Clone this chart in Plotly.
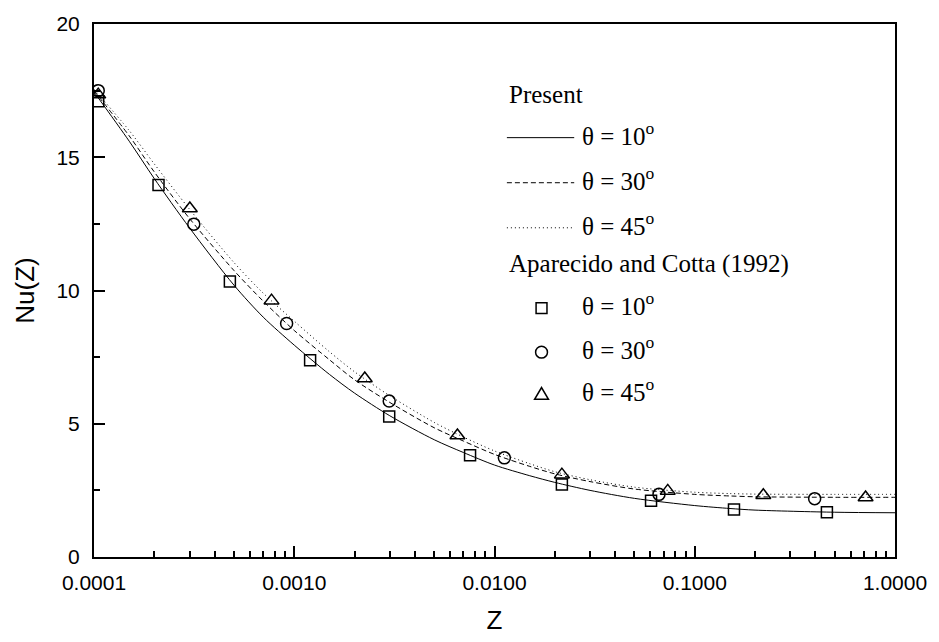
import plotly.graph_objects as go

# ---- data ----
z_curve = [1e-4, 1.5e-4, 2e-4, 3e-4, 5e-4, 7e-4, 1e-3, 1.5e-3, 2e-3, 3e-3, 5e-3, 7e-3,
           1e-2, 1.5e-2, 2e-2, 3e-2, 5e-2, 1e-1, 1.5e-1, 2e-1, 5e-1, 1.0]
nu_present_10 = [17.45, 15.6, 14.2, 12.35, 10.2, 9.0, 7.95, 6.85, 6.15, 5.3, 4.4, 3.92,
                 3.45, 3.05, 2.8, 2.5, 2.2, 1.93, 1.82, 1.76, 1.68, 1.66]
nu_present_30 = [17.5, 15.8, 14.45, 12.7, 10.75, 9.6, 8.5, 7.4, 6.65, 5.8, 4.85, 4.35,
                 3.85, 3.4, 3.12, 2.83, 2.55, 2.35, 2.29, 2.26, 2.24, 2.24]
nu_present_45 = [17.55, 16.0, 14.75, 13.05, 11.05, 9.9, 8.85, 7.7, 6.95, 6.05, 5.05, 4.5,
                 3.98, 3.5, 3.2, 2.9, 2.62, 2.43, 2.38, 2.36, 2.35, 2.35]

z_ac_10 = [1.05e-4, 2.1e-4, 4.77e-4, 1.2e-3, 2.98e-3, 7.55e-3, 2.17e-2, 6.05e-2, 0.157, 0.457]
nu_ac_10 = [17.1, 13.96, 10.34, 7.38, 5.27, 3.82, 2.72, 2.11, 1.78, 1.68]
z_ac_30 = [1.05e-4, 3.15e-4, 9.16e-4, 2.98e-3, 1.12e-2, 6.63e-2, 0.397]
nu_ac_30 = [17.5, 12.49, 8.76, 5.85, 3.72, 2.35, 2.19]
z_ac_45 = [1.05e-4, 3.01e-4, 7.7e-4, 2.25e-3, 6.53e-3, 2.17e-2, 7.33e-2, 0.22, 0.713]
nu_ac_45 = [17.35, 13.08, 9.62, 6.70, 4.56, 3.09, 2.48, 2.32, 2.23]

x_tickvals = [1e-4, 1e-3, 1e-2, 1e-1, 1.0]
x_ticktext = ["0.0001", "0.0010", "0.0100", "0.1000", "1.0000"]
x_minor = [m * d for d in [1e-4, 1e-3, 1e-2, 1e-1] for m in range(2, 10)]
y_tickvals = [0, 5, 10, 15, 20]

legend_line_labels = ["θ = 10<sup>o</sup>", "θ = 30<sup>o</sup>", "θ = 45<sup>o</sup>"]
legend_marker_labels = ["θ = 10<sup>o</sup>", "θ = 30<sup>o</sup>", "θ = 45<sup>o</sup>"]

# ---- layout geometry (pixels) ----
W, H = 939, 642
L, R, T, B = 94, 36, 15, 83
PW, PH = W - L - R, H - T - B


def px(xp):
    return (xp - L) / PW


def py(yp):
    return (H - B - yp) / PH


fig = go.Figure()
fig.add_trace(go.Scatter(x=z_curve, y=nu_present_10, mode="lines",
                         line=dict(color="black", width=1, shape="spline", smoothing=0.8)))
fig.add_trace(go.Scatter(x=z_curve, y=nu_present_30, mode="lines",
                         line=dict(color="black", width=1, dash="5px,3px", shape="spline", smoothing=0.8)))
fig.add_trace(go.Scatter(x=z_curve, y=nu_present_45, mode="lines",
                         line=dict(color="black", width=1, dash="1px,3px", shape="spline", smoothing=0.8)))

fig.add_trace(go.Scatter(x=z_ac_10, y=nu_ac_10, mode="markers",
                         marker=dict(symbol="square-open", size=11, color="black",
                                     line=dict(color="black", width=1.5))))
fig.add_trace(go.Scatter(x=z_ac_30, y=nu_ac_30, mode="markers",
                         marker=dict(symbol="circle-open", size=12, color="black",
                                     line=dict(color="black", width=1.5))))
fig.add_trace(go.Scatter(x=z_ac_45, y=nu_ac_45, mode="markers",
                         marker=dict(symbol="triangle-up-open", size=13, color="black",
                                     line=dict(color="black", width=1.5))))

# ---- manual legend ----
serif = dict(family="Liberation Serif, Times New Roman, serif", size=25, color="black")
ann = []
shapes = []
ann.append(dict(x=px(511), y=py(87), xref="paper", yref="paper", text="Present",
                showarrow=False, xanchor="left", yanchor="middle", font=serif))
line_rows = [131, 177, 223]
dashes = ["solid", "5px,3px", "1px,3px"]
for yy, lab, d in zip(line_rows, legend_line_labels, dashes):
    shapes.append(dict(type="line", xref="paper", yref="paper",
                       x0=px(511), x1=px(579), y0=py(yy), y1=py(yy),
                       line=dict(color="black", width=1, dash=d)))
    ann.append(dict(x=px(585), y=py(yy - 4), xref="paper", yref="paper", text=lab,
                    showarrow=False, xanchor="left", yanchor="middle", font=serif))
ann.append(dict(x=px(511), y=py(260), xref="paper", yref="paper",
                text="Aparecido and Cotta (1992)",
                showarrow=False, xanchor="left", yanchor="middle", font=serif))
marker_rows = [305, 350, 393]
mx = 546
s = 5.5
shapes.append(dict(type="rect", xref="paper", yref="paper",
                   x0=px(mx - s), x1=px(mx + s), y0=py(305 - s), y1=py(305 + s),
                   line=dict(color="black", width=1.5)))
shapes.append(dict(type="circle", xref="paper", yref="paper",
                   x0=px(mx - 6), x1=px(mx + 6), y0=py(350 - 6), y1=py(350 + 6),
                   line=dict(color="black", width=1.5)))
tri = "M {},{} L {},{} L {},{} Z".format(px(mx - 7), py(398), px(mx + 7), py(398), px(mx), py(386))
shapes.append(dict(type="path", xref="paper", yref="paper", path=tri,
                   line=dict(color="black", width=1.5)))
for yy, lab in zip(marker_rows, legend_marker_labels):
    ann.append(dict(x=px(585), y=py(yy - 4), xref="paper", yref="paper", text=lab,
                    showarrow=False, xanchor="left", yanchor="middle", font=serif))

sans = "Liberation Sans Narrow, Arial Narrow, Liberation Sans, Arial, sans-serif"
fig.update_layout(
    width=W, height=H,
    margin=dict(l=L, r=R, t=T, b=B),
    paper_bgcolor="white", plot_bgcolor="white",
    showlegend=False,
    annotations=ann, shapes=shapes,
    font=dict(family=sans, color="black"),
)
fig.update_xaxes(
    type="log", range=[-4, 0],
    tickmode="array", tickvals=x_tickvals, ticktext=x_ticktext,
    ticks="inside", ticklen=11, tickwidth=2, tickcolor="black",
    minor=dict(tickmode="array", tickvals=x_minor, ticks="inside", ticklen=6, tickwidth=1.5, tickcolor="black"),
    showline=True, linewidth=2, linecolor="black", mirror=True,
    showgrid=False, zeroline=False,
    tickfont=dict(family=sans, size=21),
    ticklabelstandoff=6,
    title=dict(text="Z", font=dict(family=sans, size=26), standoff=18),
)
fig.update_yaxes(
    range=[0, 20],
    tickmode="array", tickvals=y_tickvals,
    ticks="inside", ticklen=11, tickwidth=2, tickcolor="black",
    minor=dict(dtick=2.5, ticks="inside", ticklen=6, tickwidth=1.5, tickcolor="black"),
    showline=True, linewidth=2, linecolor="black", mirror=True,
    showgrid=False, zeroline=False,
    tickfont=dict(family=sans, size=21),
    ticklabelstandoff=8,
    title=dict(text="Nu(Z)", font=dict(family=sans, size=26), standoff=14),
)
fig.write_html("out.html")
